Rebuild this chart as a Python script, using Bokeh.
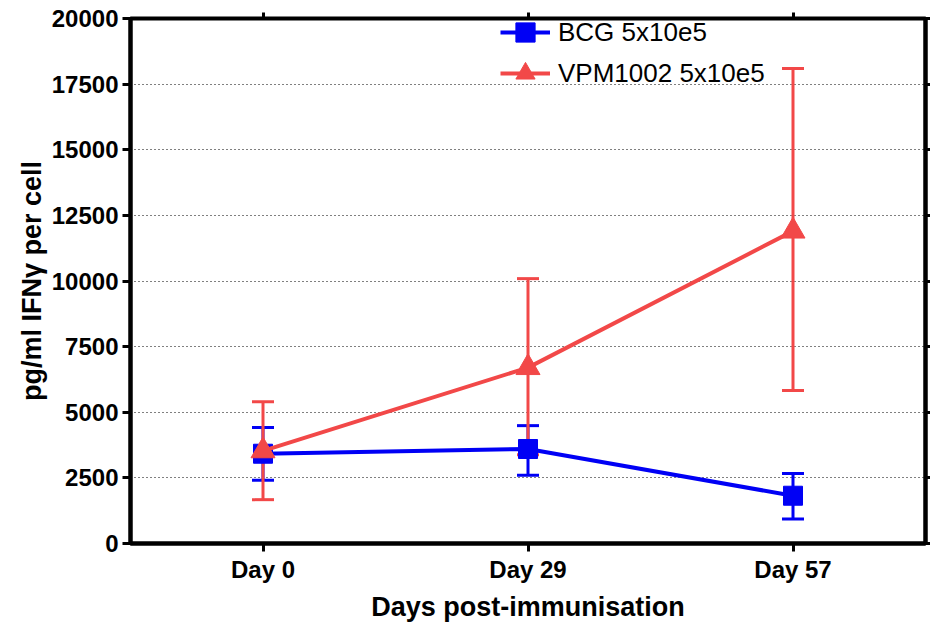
from bokeh.plotting import figure
from bokeh.models import (ColumnDataSource, Whisker, TeeHead, FixedTicker, LinearAxis,
                          CategoricalAxis, Legend, LegendItem, Range1d, FactorRange)
from bokeh.embed import file_html
from bokeh.resources import INLINE

days = ["Day 0", "Day 29", "Day 57"]
bcg_mean = [3420, 3600, 1820]
bcg_upper = [4420, 4490, 2670]
bcg_lower = [2410, 2600, 930]
vpm_mean = [3530, 6700, 11900]
vpm_upper = [5400, 10090, 18100]
vpm_lower = [1670, 3380, 5830]
y_ticks = [0, 2500, 5000, 7500, 10000, 12500, 15000, 17500, 20000]
grid_ticks = [2500, 5000, 7500, 10000, 12500, 15000, 17500]

BLUE = "#0000F5"
RED = "#F24848"
FONT = "Liberation Sans"

bcg = ColumnDataSource(dict(x=days, y=bcg_mean, upper=bcg_upper, lower=bcg_lower))
vpm = ColumnDataSource(dict(x=days, y=vpm_mean, upper=vpm_upper, lower=vpm_lower))

p = figure(width=930, height=624, x_range=FactorRange(*days), y_range=Range1d(0, 20000),
           output_backend="svg", toolbar_location=None,
           min_border_left=130, min_border_right=0, min_border_top=18, min_border_bottom=79)

p.outline_line_color = "black"
p.outline_line_width = 4
p.outline_line_alpha = 1

p.xgrid.visible = False
p.ygrid.ticker = FixedTicker(ticks=grid_ticks)
p.ygrid.grid_line_color = "black"
p.ygrid.grid_line_dash = "1 3"
p.ygrid.grid_line_width = 1

# left axis
ya = p.yaxis[0]
ya.ticker = FixedTicker(ticks=y_ticks)
ya.axis_label = "pg/ml IFNγ per cell"
ya.axis_label_text_font = FONT
ya.axis_label_text_font_style = "bold"
ya.axis_label_text_font_size = "27px"
ya.axis_label_text_color = "black"
ya.axis_label_standoff = 2
ya.major_label_text_font = FONT
ya.major_label_text_font_style = "bold"
ya.major_label_text_font_size = "24px"
ya.major_label_text_color = "black"
ya.major_label_standoff = 4
ya.axis_line_width = 4
ya.major_tick_line_width = 3
ya.major_tick_out = 8
ya.major_tick_in = 0
ya.minor_tick_line_color = None

# bottom axis
xa = p.xaxis[0]
xa.axis_label = "Days post-immunisation"
xa.axis_label_text_font = FONT
xa.axis_label_text_font_style = "bold"
xa.axis_label_text_font_size = "27px"
xa.axis_label_text_color = "black"
xa.axis_label_standoff = 6
xa.major_label_text_font = FONT
xa.major_label_text_font_style = "bold"
xa.major_label_text_font_size = "24px"
xa.major_label_text_color = "black"
xa.major_label_standoff = 4
xa.axis_line_width = 4
xa.major_tick_line_width = 3
xa.major_tick_out = 8
xa.major_tick_in = 0

# top axis (ticks only)
ta = CategoricalAxis(major_label_text_font_size="1px", major_label_text_color=None,
                     major_label_standoff=0, axis_line_width=3, major_tick_line_width=3,
                     major_tick_out=6, major_tick_in=0)
p.add_layout(ta, "above")
# right axis (ticks only)
ra = LinearAxis(ticker=FixedTicker(ticks=y_ticks), major_label_text_font_size="1px",
                major_label_text_color=None, major_label_standoff=0, axis_line_width=4,
                major_tick_line_width=3, major_tick_out=5, major_tick_in=0,
                minor_tick_line_color=None)
p.add_layout(ra, "right")

# BCG
p.add_layout(Whisker(source=bcg, base="x", upper="upper", lower="lower", dimension="height",
                     line_color=BLUE, line_width=3,
                     upper_head=TeeHead(size=22, line_color=BLUE, line_width=3),
                     lower_head=TeeHead(size=22, line_color=BLUE, line_width=3)))
l1 = p.line("x", "y", source=bcg, line_color=BLUE, line_width=4)
s1 = p.scatter("x", "y", source=bcg, marker="square", size=19, fill_color=BLUE, line_color=BLUE)

# VPM1002
p.add_layout(Whisker(source=vpm, base="x", upper="upper", lower="lower", dimension="height",
                     line_color=RED, line_width=3,
                     upper_head=TeeHead(size=22, line_color=RED, line_width=3),
                     lower_head=TeeHead(size=22, line_color=RED, line_width=3)))
l2 = p.line("x", "y", source=vpm, line_color=RED, line_width=4)
s2 = p.scatter("x", "y", source=vpm, marker="triangle", size=24, fill_color=RED, line_color=RED)

legend_style = dict(padding=0, margin=0, spacing=0, glyph_width=50, glyph_height=48,
                    label_standoff=8, label_text_font=FONT, label_text_font_size="26px",
                    label_text_color="black", border_line_color=None,
                    background_fill_alpha=0)
legend1 = Legend(items=[LegendItem(label="BCG 5x10e5", renderers=[l1, s1])],
                 location=(370, 487), **legend_style)
legend2 = Legend(items=[LegendItem(label="VPM1002 5x10e5", renderers=[l2, s2])],
                 location=(370, 446), **legend_style)
p.add_layout(legend1)
p.add_layout(legend2)

open("out.html", "w").write(file_html(p, INLINE))
